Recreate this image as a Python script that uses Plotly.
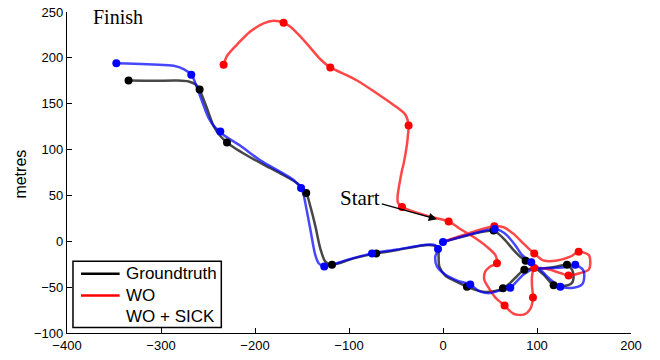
import plotly.graph_objects as go

# ---- Groundtruth (black) ----
gt_x = [0, 53.8, 59.1, 66.3, 75.1, 82.2, 87.9, 96.4, 107, 117.7, 128.3, 137.2, 138.9, 137.2, 131.9,
        121.3, 110.6, 100, 86.5, 78.7, 71.6, 63.8, 55.6, 45, 34.4, 25.5, 13.1, 2.4, -3.9, -4.7, -5,
        -15, -48.9, -71, -95.1, -118.1, -125.2, -130.5, -135.9, -141.2, -145.5, -155.3, -173.1,
        -190.9, -208.5, -222.8, -229.8, -236.9, -244, -251.1, -256.4, -258.9, -263.5, -270.6, -283,
        -307.9, -334.5]
gt_y = [-0.7, 11.7, 8.1, 1.1, -9.6, -16.8, -21.3, -27.4, -36.3, -48, -48.8, -45.3, -38.1, -31, -25.6,
        -27.4, -29.2, -29.9, -31, -38.1, -45.3, -51.2, -54.1, -55.2, -53, -49.5, -43.4, -37.4, -27.4,
        -14.9, -7, -4, -9.6, -13.2, -18.6, -25.6, -22.1, -7.9, 17.1, 38.4, 52.6, 63.3, 74, 83.6, 93.5,
        102.5, 107.8, 114.8, 125.5, 145.1, 159.3, 165.4, 171.1, 174.3, 175.3, 175, 175.3]
gt_mx = [53.8, 87.9, 117.7, 131.9, 86.5, 63.8, 25.5, -71, -118.1, -145.5, -229.8, -258.9, -334.5]
gt_my = [11.7, -21.3, -48, -25.6, -31, -51.2, -49.5, -13.2, -25.6, 52.6, 107.8, 165.4, 175.3]

# ---- WO (red) ----
wo_x = [0, 54.6, 64.5, 75.1, 85.7, 92.9, 97.1, 107, 121.3, 135.4, 144.3, 154.9, 156.7, 154.9, 146.1,
        133.6, 124.8, 114.1, 103.5, 97, 94.7, 94.7, 95.7, 92.9, 85.7, 75.1, 65.5, 55.6, 48.5, 43.9,
        45, 50.3, 57.4, 55.6, 46.8, 32.6, 18.4, 6, -10, -27.7, -43.6, -47.9, -48.3, -46.2, -43.6,
        -41.9, -38.3, -37.2, -36.6, -40, -52.6, -70.2, -91.5, -109, -119.9, -130.5, -141, -151.8,
        -162.4, -169.6, -180.2, -190.9, -205, -219.1, -229.8, -233.4]
wo_y = [-0.7, 16.3, 15.3, 8.1, -2.6, -9.6, -13.2, -21, -21, -16.8, -11.4, -14.9, -23.9, -31, -34.6,
        -37.4, -34.6, -31, -29.2, -29.2, -38.1, -48.8, -61.2, -73.6, -80, -79, -70.1, -61.2, -50.6,
        -41.6, -32.8, -27.4, -23.9, -14.9, -6.1, 4.6, 13.4, 21.7, 25.9, 31.3, 37.4, 41.9, 49.1, 63.3,
        77.5, 84.6, 106, 116.6, 126.3, 138, 148.7, 161.2, 175.3, 184.2, 189.6, 198.5, 210.9, 223.4,
        234, 238.3, 240.4, 237.6, 228.7, 214.5, 202, 192.4]
wo_mx = [54.6, 97.1, 144.3, 133.6, 97, 95.7, 65.5, 57.4, 6, -43.6, -36.6, -119.9, -169.6, -233.4]
wo_my = [16.3, -13.2, -11.4, -37.4, -29.2, -61.2, -70.1, -23.9, 21.7, 37.4, 126.3, 189.6, 238.3, 192.4]

# ---- WO + SICK (blue) ----
ws_x = [0, 55, 61, 68.1, 76.9, 84, 93.9, 103.5, 114.1, 124.8, 138.9, 147.9, 150.3, 148.9, 144.3, 140.7,
        128.3, 114.1, 100, 93.6, 85.7, 78.7, 71.6, 59.1, 48.5, 37.9, 29, 16.6, 2.4, -6.4, -8.2, -5.3,
        -9, -20, -48.9, -75.5, -102.1, -126.3, -132.3, -135.9, -141.2, -146.5, -148.3, -151, -158.9,
        -194.4, -215.6, -233.4, -236.9, -242.2, -249.4, -260, -265.3, -267.8, -275.9, -286.6, -307.9,
        -336.2, -347.5]
ws_y = [-0.7, 13.4, 11.7, 6.4, -4.3, -14.9, -22.8, -31, -41.6, -49.5, -50.6, -47, -38.1, -31, -27.4,
        -25.6, -28.2, -29.2, -29.9, -31, -36.3, -43.4, -50.6, -54.1, -56.6, -54.1, -47, -43.4, -36.3,
        -27.4, -16.8, -8.5, -4, -4, -9, -13.2, -20.3, -27.4, -23.9, -14.9, 13.4, 41.9, 50.8, 58, 66.8,
        88.2, 104.2, 115.9, 119.8, 123.8, 134.5, 162.9, 177.2, 181.7, 187.8, 191.4, 192.7, 193.8, 194.2]
ws_mx = [0, 55, 93.9, 124.8, 140.7, 71.6, 29, -5.3, -75.5, -126.3, -151, -236.9, -267.8, -347.5]
ws_my = [-0.7, 13.4, -22.8, -49.5, -25.6, -50.6, -47, -8.5, -13.2, -27.4, 58, 119.8, 181.7, 194.2]

legend_names = ["Groundtruth", "WO", "WO + SICK"]
legend_colors = ["black", "red", None]
x_ticks = [-400, -300, -200, -100, 0, 100, 200]
y_ticks = [-100, -50, 0, 50, 100, 150, 200, 250]

fig = go.Figure()

line_kw = dict(shape="spline", smoothing=0.8, width=2.5)
fig.add_trace(go.Scatter(x=gt_x, y=gt_y, mode="lines", name=legend_names[0], showlegend=False,
                         line=dict(color="rgba(0,0,0,0.72)", **line_kw)))
fig.add_trace(go.Scatter(x=wo_x, y=wo_y, mode="lines", name=legend_names[1], showlegend=False,
                         line=dict(color="rgba(255,0,0,0.72)", **line_kw)))
fig.add_trace(go.Scatter(x=ws_x, y=ws_y, mode="lines", name=legend_names[2], showlegend=False,
                         line=dict(color="rgba(0,0,255,0.72)", **line_kw)))
fig.add_trace(go.Scatter(x=gt_mx, y=gt_my, mode="markers", showlegend=False,
                         marker=dict(color="black", size=8)))
fig.add_trace(go.Scatter(x=wo_mx, y=wo_my, mode="markers", showlegend=False,
                         marker=dict(color="red", size=8)))
fig.add_trace(go.Scatter(x=ws_mx, y=ws_my, mode="markers", showlegend=False,
                         marker=dict(color="blue", size=8)))

# ---- legend box (drawn in paper coordinates) ----
lg_x0, lg_x1, lg_y0, lg_y1 = 0.0106, 0.2736, 0.0171, 0.2233
lg_line_x0, lg_line_x1, lg_text_x = 0.0248, 0.0933, 0.1004
lg_rows = [0.1846, 0.1167, 0.0527]
fig.add_shape(type="rect", xref="paper", yref="paper", x0=lg_x0, x1=lg_x1, y0=lg_y0, y1=lg_y1,
              line=dict(color="black", width=1.5), fillcolor="white", layer="above")
for name, col, ry in zip(legend_names, legend_colors, lg_rows):
    if col:
        fig.add_shape(type="line", xref="paper", yref="paper", x0=lg_line_x0, x1=lg_line_x1,
                      y0=ry, y1=ry, line=dict(color=col, width=2.5), layer="above")
    fig.add_annotation(x=lg_text_x, y=ry, xref="paper", yref="paper", text=name, showarrow=False,
                       xanchor="left", yanchor="middle",
                       font=dict(family="Liberation Sans, Arial", size=17, color="black"))

fig.add_annotation(x=-6.4, y=24.1, ax=-88, ay=47.3, xref="x", yref="y", axref="x", ayref="y",
                   text="Start", showarrow=True, arrowhead=2, arrowsize=1.1, arrowwidth=1.5,
                   arrowcolor="black", font=dict(family="Liberation Serif", size=21, color="black"))
fig.add_annotation(x=-375, y=245, xref="x", yref="y", text="Finish", showarrow=False,
                   xanchor="left", yanchor="middle",
                   font=dict(family="Liberation Serif", size=20, color="black"))
fig.add_annotation(x=-0.083, y=0.494, xref="paper", yref="paper", text="metres", showarrow=False,
                   textangle=-90, xanchor="center", yanchor="middle",
                   font=dict(family="Liberation Sans, Arial", size=16, color="black"))

axis_common = dict(showgrid=False, zeroline=False, showline=True, linecolor="black", linewidth=1.2,
                   ticks="inside", ticklen=5, tickwidth=1, tickcolor="black",
                   ticklabeloverflow="allow",
                   tickfont=dict(family="Liberation Sans, Arial", size=13, color="black"))
fig.update_xaxes(range=[-400, 200], tickvals=x_ticks, **axis_common)
fig.update_yaxes(range=[-100, 250], tickvals=y_ticks, **axis_common)

fig.update_layout(
    width=660, height=360,
    margin=dict(l=67, r=29, t=5, b=27),
    paper_bgcolor="white", plot_bgcolor="white",
    showlegend=False,
)

fig.write_html("out.html", config={"displayModeBar": False},
               post_script="document.body.style.margin='0';document.body.style.padding='0';")
